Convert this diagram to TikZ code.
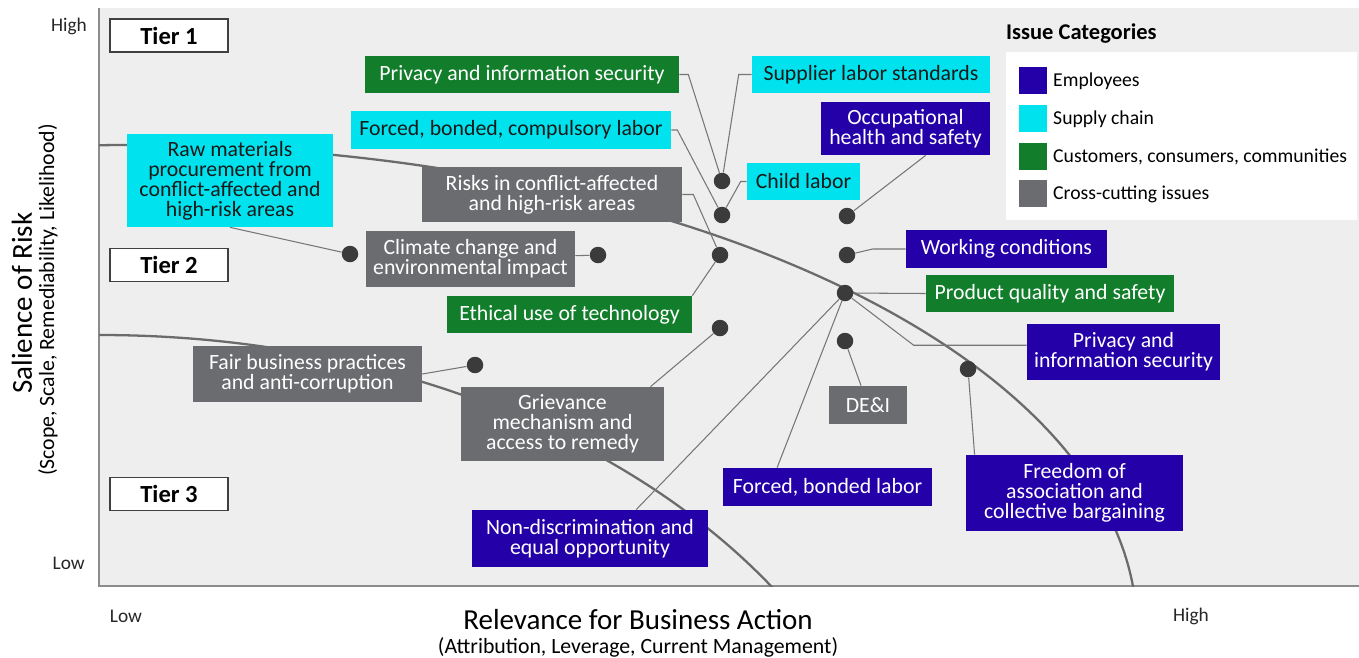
\documentclass[tikz,border=0pt]{standalone}
\usepackage{fontspec}
\setmainfont{Carlito}
\definecolor{empblue}{HTML}{2300A8}
\definecolor{supcyan}{HTML}{00E3EE}
\definecolor{cusgreen}{HTML}{127E2B}
\definecolor{crossgray}{HTML}{6B6C6F}
\definecolor{plotbg}{HTML}{EEEEEE}
\definecolor{dotgray}{HTML}{3B3B3B}
\definecolor{linegray}{HTML}{767676}
\tikzset{
  boxsize/.style 2 args={minimum width=#1*0.2mm, minimum height=#2*0.2mm},
  issue/.style={rectangle, inner sep=0pt, align=center, text=white,
    font=\fontsize{12.4}{11.4}\selectfont},
  emp/.style={issue, fill=empblue},
  sup/.style={issue, fill=supcyan, text=black!90},
  cus/.style={issue, fill=cusgreen},
  cross/.style={issue, fill=crossgray},
  riskdot/.style={circle, fill=dotgray, inner sep=0pt, minimum size=3.3mm},
  tier/.style={draw=black!75, line width=0.8pt, fill=white, boxsize={118}{33},
    font=\fontsize{14}{14}\selectfont\bfseries},
  link/.style={draw=linegray, line width=0.6pt},
  band/.style={draw=black!58, line width=1.3pt},
  axisline/.style={draw=black!45, line width=0.8pt},
  ticklab/.style={font=\fontsize{11}{11}\selectfont, text=black!85}
}
\begin{document}
\begin{tikzpicture}[x=0.02cm,y=-0.02cm]
  \useasboundingbox (0,0) rectangle (1359,657);
  \fill[plotbg] (99,8) rectangle (1359,586);
  \draw[axisline] (99,8) -- (99,586) -- (1359,586);

  % tier boundaries
  \begin{scope}
    \clip (99,8) rectangle (1359,586);
    \draw[band] (130,630) ellipse [x radius=1007, y radius=485];
    \draw[band] (100,900) ellipse [x radius=807, y radius=565];
  \end{scope}

  % axes
  \node[ticklab, anchor=east] (yhigh) at (93,26) {High};
  \node[ticklab, anchor=east] (ylow) at (91,563) {Low};
  \node[ticklab] (xlow) at (126,616) {Low};
  \node[ticklab] (xhigh) at (1191,616) {High};
  \node[inner sep=0pt, font=\fontsize{16.5}{16.5}\selectfont] (xtitle) at (638,619.5) {Relevance for Business Action};
  \node[inner sep=0pt, font=\fontsize{12.4}{12.4}\selectfont] (xsub) at (638,647) {(Attribution, Leverage, Current Management)};
  \node[rotate=90, font=\fontsize{16.5}{16.5}\selectfont] (ytitle) at (22,303) {Salience of Risk};
  \node[rotate=90, font=\fontsize{12.4}{12.4}\selectfont] (ysub) at (48,300) {(Scope, Scale, Remediability, Likelihood)};

  \node[tier] (tier1) at (169,35.5) {Tier 1};
  \node[tier] (tier2) at (169,265) {Tier 2};
  \node[tier] (tier3) at (169,494) {Tier 3};

  % legend
  \fill[white] (1006,52) rectangle (1357,220);
  \node[anchor=west, font=\fontsize{12.8}{12.8}\selectfont\bfseries] (legtitle) at (1000,34) {Issue Categories};
  \foreach \col/\lab [count=\i] in {empblue/Employees, supcyan/Supply chain,
      cusgreen/{Customers, consumers, communities}, crossgray/Cross-cutting issues} {
    \node[fill=\col, inner sep=0pt, boxsize={28}{27}] (key\i) at (1033,43+37.7*\i) {};
    \node[anchor=west, font=\fontsize{11.2}{11.2}\selectfont] (keylab\i) at (1047,44+37.7*\i) {\lab};
  }

  % issues
  \node[cus, boxsize={314}{37}] (privcus) at (522,74.5) {Privacy and information security};
  \node[sup, boxsize={320}{38}] (forcedsup) at (511,130) {Forced, bonded, compulsory labor};
  \node[cross, boxsize={260}{55}] (conflict) at (552,194.5) {Risks in conflict-affected\\and high-risk areas};
  \node[cross, boxsize={209}{56}] (climate) at (470.5,259) {Climate change and\\environmental impact};
  \node[cus, boxsize={245}{37}] (ethical) at (569.5,314.5) {Ethical use of technology};
  \node[sup, boxsize={206}{93}] (rawmat) at (230,180.5) {Raw materials\\procurement from\\conflict-affected and\\high-risk areas};
  \node[sup, boxsize={238}{37}] (supplier) at (871,74.5) {Supplier labor standards};
  \node[emp, boxsize={169}{53}] (ohs) at (905.5,128.5) {Occupational\\health and safety};
  \node[sup, boxsize={113}{37}] (child) at (803.5,181.5) {Child labor};
  \node[emp, boxsize={201}{38}] (working) at (1006.5,249) {Working conditions};
  \node[cus, boxsize={248}{37}] (product) at (1050,293.5) {Product quality and safety};
  \node[emp, boxsize={193}{56}] (privemp) at (1123.5,352) {Privacy and\\information security};
  \node[cross, boxsize={78}{38}] (dei) at (868,405) {DE\&I};
  \node[emp, boxsize={209}{38}] (forcedemp) at (827.5,487) {Forced, bonded labor};
  \node[emp, boxsize={217}{76}] (freedom) at (1074.5,493) {Freedom of\\association and\\collective bargaining};
  \node[cross, boxsize={229}{56}] (fairbiz) at (307.5,374) {Fair business practices\\and anti-corruption};
  \node[cross, boxsize={203}{74}] (grievance) at (562.5,424) {Grievance\\mechanism and\\access to remedy};
  \node[emp, boxsize={236}{57}] (nondisc) at (590,538.5) {Non-discrimination and\\equal opportunity};

  % positions on the map
  \node[riskdot] (d1) at (722,181) {};
  \node[riskdot] (d2) at (722,215) {};
  \node[riskdot] (d3) at (720,255) {};
  \node[riskdot] (d4) at (598,255) {};
  \node[riskdot] (d5) at (350,254) {};
  \node[riskdot] (d6) at (847,216) {};
  \node[riskdot] (d7) at (847,255) {};
  \node[riskdot] (hub) at (845,293) {};
  \node[riskdot] (d9) at (845,341) {};
  \node[riskdot] (d10) at (968,369) {};
  \node[riskdot] (d11) at (720,328) {};
  \node[riskdot] (d12) at (475,365) {};

  \draw[link] (privcus.east) -- ++(9,0) -- (d1);
  \draw[link] (supplier.west) -- ++(-13,0) -- (d1);
  \draw[link] (forcedsup.east) -- ++(6,0) -- (d2);
  \draw[link] (child.west) -- ++(-6,0) -- (d2);
  \draw[link] (conflict.east) -- ++(11,0) -- (d3);
  \draw[link] (ethical.north east) -- (d3);
  \draw[link] (climate) -- (d4);
  \draw[link] (rawmat.south) -- (d5);
  \draw[link] (ohs.-53) -- (d6);
  \draw[link] (working.west) -- ++(-33,0) -- (d7);
  \draw[link] (hub) -- (product.west);
  \draw[link] (privemp.176) -- ++(-113,0) -- (hub);
  \draw[link] (dei) -- (d9);
  \draw[link] (forcedemp.159) -- (hub);
  \draw[link] (nondisc.32) -- (hub);
  \draw[link] (freedom.159) -- (d10);
  \draw[link] (grievance.23) -- (d11);
  \draw[link] (fairbiz.east) -- (d12);
\end{tikzpicture}
\end{document}
